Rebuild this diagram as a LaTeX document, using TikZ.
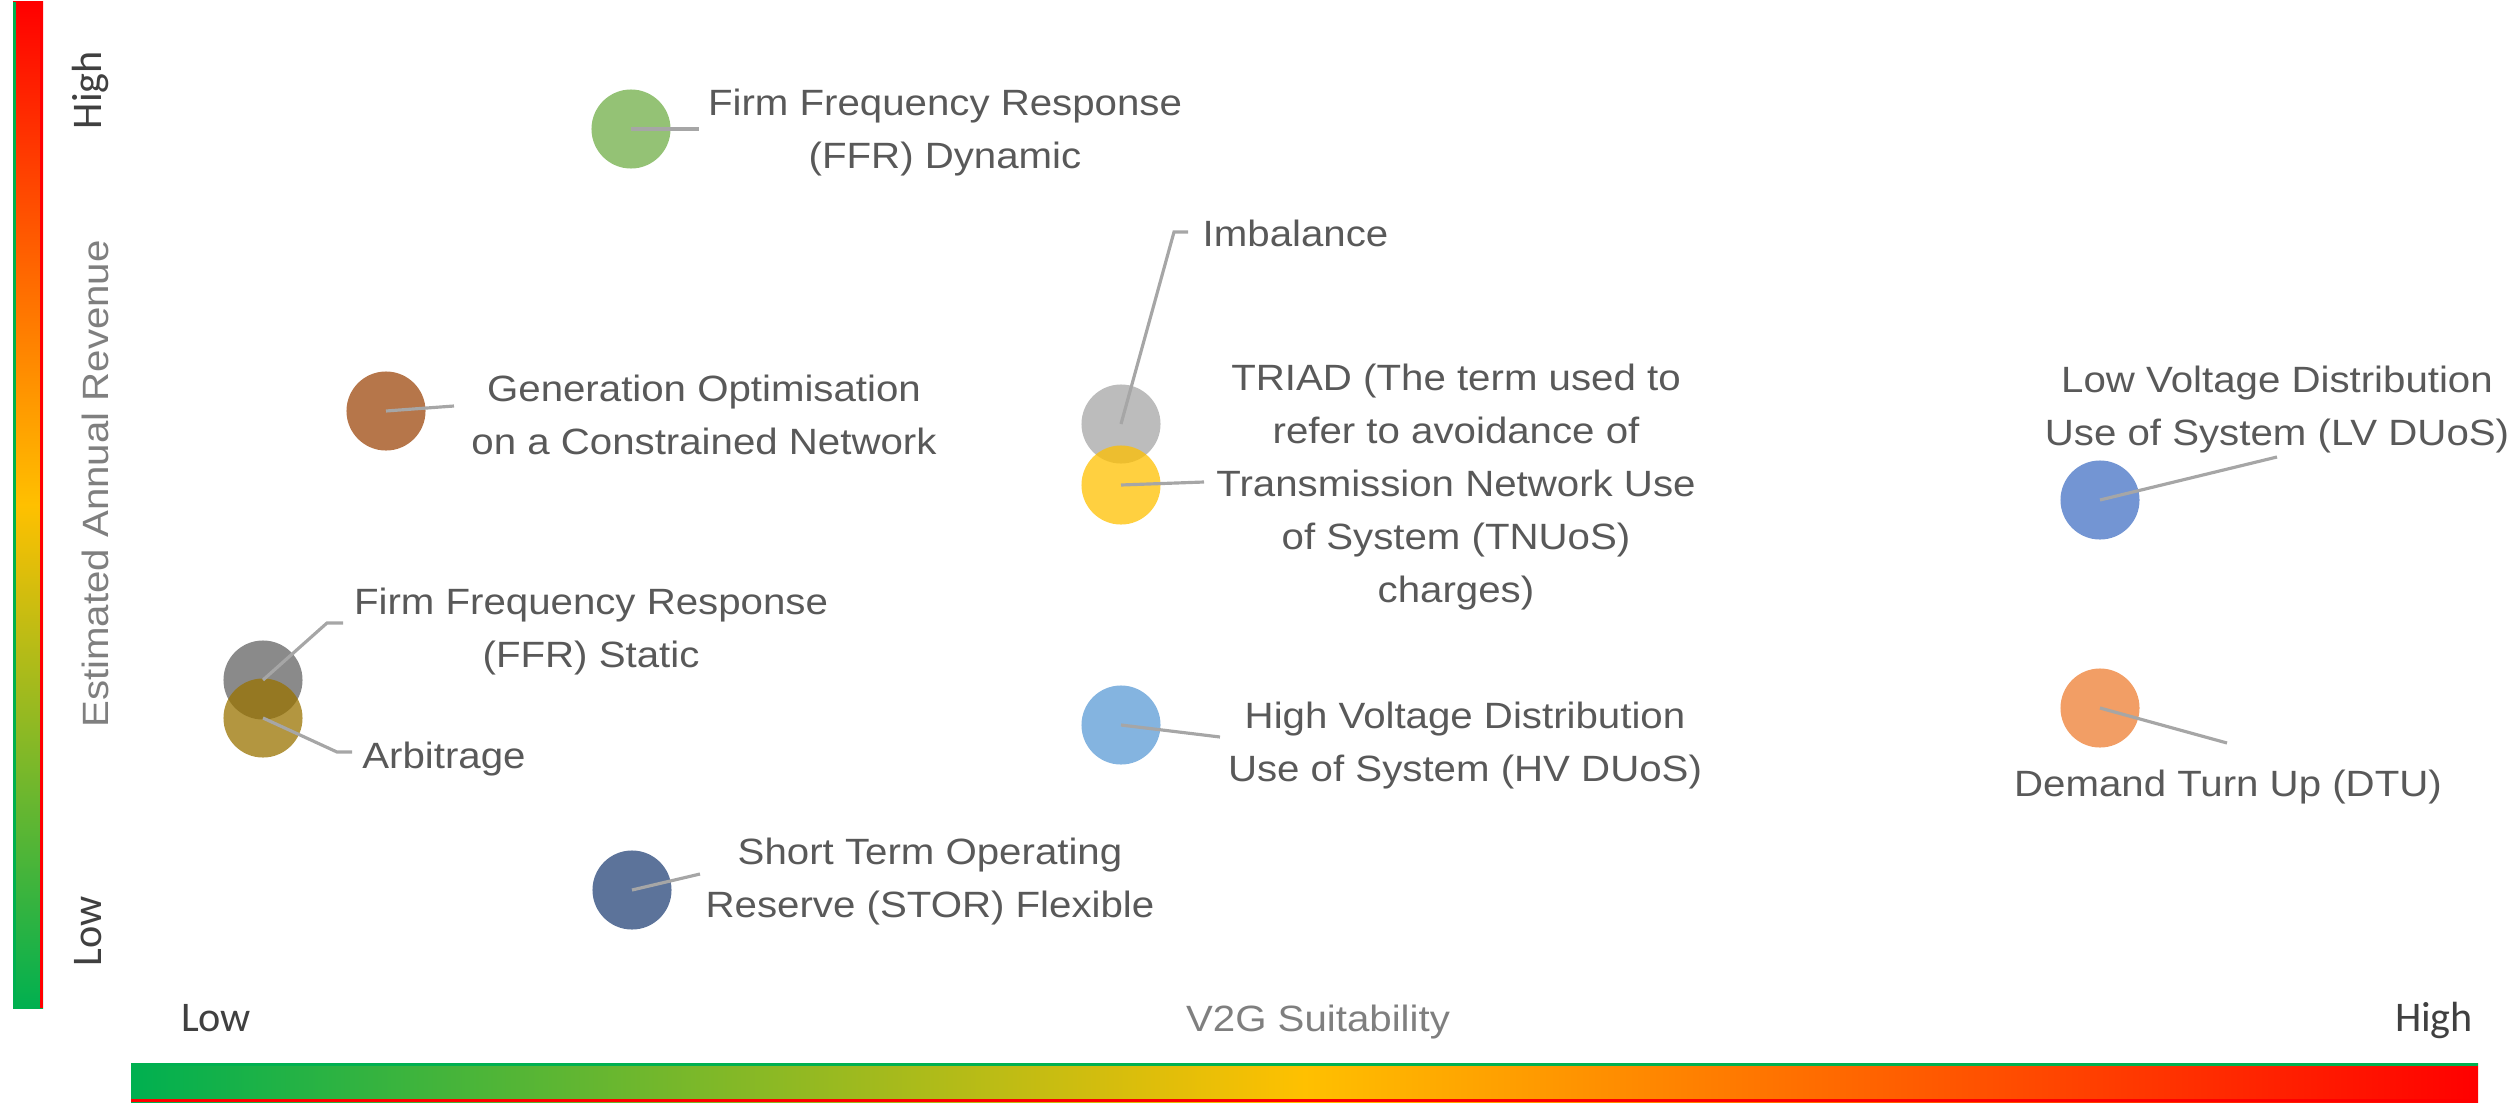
\documentclass[tikz,border=0pt]{standalone}
\usepackage{fontspec}
\setmainfont{Liberation Sans}
\newfontfamily\labfont{Liberation Sans}[FakeStretch=1.1]
\newfontfamily\calfont{Carlito}
\definecolor{ggreen}{HTML}{00B050}
\definecolor{gyellow}{HTML}{FFC000}
\definecolor{gred}{HTML}{FF0000}
\definecolor{cGreen}{HTML}{70AD47}
\definecolor{cBrown}{HTML}{9E480E}
\definecolor{cGrayD}{HTML}{636363}
\definecolor{cGold}{HTML}{997300}
\definecolor{cGrayL}{HTML}{A5A5A5}
\definecolor{cYellow}{HTML}{FFC000}
\definecolor{cBlueL}{HTML}{5B9BD5}
\definecolor{cNavy}{HTML}{264478}
\definecolor{cBlue}{HTML}{4472C4}
\definecolor{cOrange}{HTML}{ED7D31}
\definecolor{labgray}{HTML}{595959}
\definecolor{axgray}{HTML}{7F7F7F}
\definecolor{lhgray}{HTML}{404040}
\definecolor{leadgray}{HTML}{A6A6A6}
\begin{document}
\begin{tikzpicture}[x=0.01cm,y=-0.01cm,
  bub/.style={circle,minimum size=0.79cm,inner sep=0pt,draw=none,fill opacity=0.75},
  lab/.style={inner sep=0pt,align=center,text=labgray,font=\labfont\fontsize{10.4}{15.1}\selectfont},
  axt/.style={inner sep=0pt,text=axgray,font=\labfont\fontsize{10.4}{15.1}\selectfont},
  lh/.style={inner sep=0pt,text=lhgray,font=\calfont\fontsize{12}{14}\selectfont},
  leader/.style={draw=leadgray,line width=0.9pt}]
\useasboundingbox (0,0) rectangle (2514,1103);
% colour bars
\shade[top color=gred, bottom color=ggreen, middle color=gyellow] (13,2) rectangle (43,1008);
\draw[ggreen,line width=0.9pt] (14.5,2) -- (14.5,1008);
\draw[gred,line width=0.9pt] (41.5,2) -- (41.5,1008);
\shade[left color=ggreen, right color=gred, middle color=gyellow] (131,1063) rectangle (2478,1102);
\draw[ggreen,line width=0.9pt] (131,1064.5) -- (2478,1064.5);
\draw[gred,line width=0.9pt] (131,1100.5) -- (2478,1100.5);
% axis texts
\node[lh,rotate=90,anchor=base] (yhigh) at (101,90) {High};
\node[lh,rotate=90,anchor=base] (ylow) at (101,931) {Low};
\node[axt,rotate=90,anchor=base] (ytitle) at (108,484) {Estimated Annual Revenue};
\node[lh,anchor=base] (xlow) at (216,1031) {Low};
\node[lh,anchor=base] (xhigh) at (2434,1031) {High};
\node[axt,anchor=base] (xtitle) at (1318,1031) {V2G Suitability};
% bubbles
\node[bub,fill=cGreen] (ffrd) at (631,129) {};
\node[bub,fill=cBrown] (gen) at (386,411) {};
\node[bub,fill=cGrayD] (ffrs) at (263,680) {};
\node[bub,fill=cGold] (arb) at (263,718) {};
\node[bub,fill=cGrayL] (imb) at (1121,424) {};
\node[bub,fill=cYellow] (triad) at (1121,485) {};
\node[bub,fill=cBlueL] (hv) at (1121,725) {};
\node[bub,fill=cNavy] (stor) at (632,890) {};
\node[bub,fill=cBlue] (lv) at (2100,500) {};
\node[bub,fill=cOrange] (dtu) at (2100,708) {};
% labels
\node[lab,anchor=north] (ffrdL) at (945,88) {Firm Frequency Response\\(FFR) Dynamic};
\node[lab,anchor=north] (genL) at (704,374) {Generation Optimisation\\on a Constrained Network};
\node[lab,anchor=north] (ffrsL) at (591,587) {Firm Frequency Response\\(FFR) Static};
\node[lab,anchor=north] (arbL) at (444,741) {Arbitrage};
\node[lab,anchor=west] (imbL) at (1202,233) {Imbalance};
\node[lab,anchor=north] (triadL) at (1456,363) {TRIAD (The term used to\\refer to avoidance of\\Transmission Network Use\\of System (TNUoS)\\charges)};
\node[lab,anchor=north] (hvL) at (1465,701) {High Voltage Distribution\\Use of System (HV DUoS)};
\node[lab,anchor=north] (storL) at (930,837) {Short Term Operating\\Reserve (STOR) Flexible};
\node[lab,anchor=north] (lvL) at (2277,365) {Low Voltage Distribution\\Use of System (LV DUoS)};
\node[lab,anchor=north] (dtuL) at (2228,769) {Demand Turn Up (DTU)};
% leader lines
\coordinate (ffrdE) at (699,129);
\coordinate (genE) at (454,406);
\coordinate (ffrsK) at (327,623);
\coordinate (ffrsE) at (343,623);
\coordinate (arbK) at (337,752);
\coordinate (arbE) at (352,752);
\coordinate (imbK) at (1174,232);
\coordinate (imbE) at (1188,232);
\coordinate (triadE) at (1204,482);
\coordinate (hvE) at (1220,737);
\coordinate (storE) at (700,874);
\coordinate (lvE) at (2277,457);
\coordinate (dtuE) at (2227,743);
\draw[leader] (ffrd.center) -- (ffrdE);
\draw[leader] (gen.center) -- (genE);
\draw[leader] (ffrs.center) -- (ffrsK) -- (ffrsE);
\draw[leader] (arb.center) -- (arbK) -- (arbE);
\draw[leader] (imb.center) -- (imbK) -- (imbE);
\draw[leader] (triad.center) -- (triadE);
\draw[leader] (hv.center) -- (hvE);
\draw[leader] (stor.center) -- (storE);
\draw[leader] (lv.center) -- (lvE);
\draw[leader] (dtu.center) -- (dtuE);
\end{tikzpicture}
\end{document}
